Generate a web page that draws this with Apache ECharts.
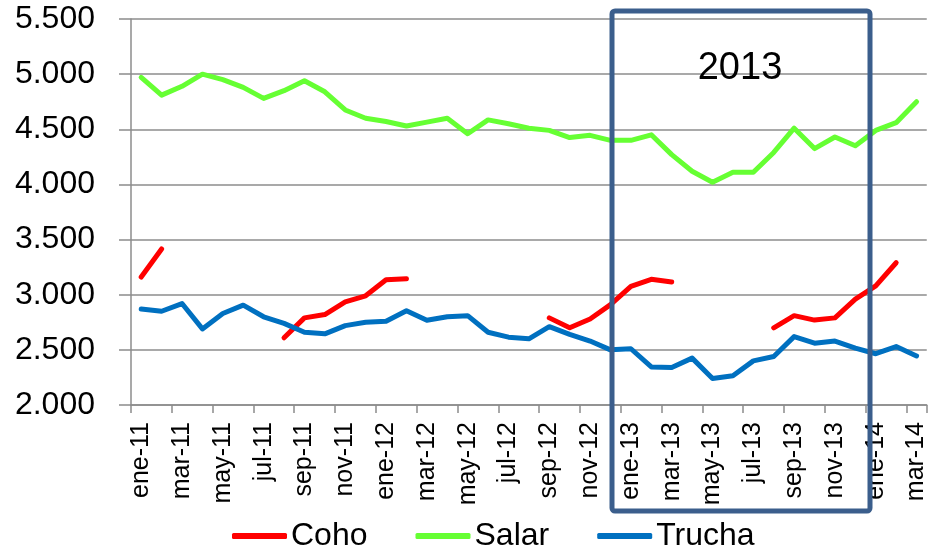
<!DOCTYPE html>
<html>
<head>
<meta charset="utf-8">
<script src="https://cdn.jsdelivr.net/npm/echarts@6/dist/echarts.min.js"></script>
<style>
  html, body { margin: 0; padding: 0; background: #fff; }
  #chart { width: 929px; height: 549px; }
</style>
</head>
<body>
<div id="chart"></div>
<script>
// ===== datos (precio mensual) =====
const meses = [
  'ene-11','feb-11','mar-11','abr-11','may-11','jun-11','jul-11','ago-11','sep-11','oct-11','nov-11','dic-11',
  'ene-12','feb-12','mar-12','abr-12','may-12','jun-12','jul-12','ago-12','sep-12','oct-12','nov-12','dic-12',
  'ene-13','feb-13','mar-13','abr-13','may-13','jun-13','jul-13','ago-13','sep-13','oct-13','nov-13','dic-13',
  'ene-14','feb-14','mar-14'
];
const coho = [
  3160, 3415, null, null, null, null, null, 2610, 2790, 2820, 2935, 2990,
  3135, 3145, null, null, null, null, null, null, 2790, 2700, 2780, 2910,
  3075, 3140, 3115, null, null, null, null, 2700, 2810, 2770, 2790, 2960,
  3080, 3290, null
];
const salar = [
  4970, 4810, 4890, 5000, 4950, 4880, 4780, 4850, 4940, 4840, 4675, 4600,
  4570, 4530, 4565, 4600, 4460, 4585, 4550, 4510, 4490, 4425, 4445, 4400,
  4400, 4450, 4270, 4120, 4020, 4110, 4110, 4290, 4510, 4325, 4430, 4350,
  4490, 4560, 4750
];
const trucha = [
  2870, 2850, 2920, 2690, 2830, 2905, 2800, 2740, 2660, 2645, 2720, 2750,
  2760, 2855, 2768, 2800, 2810, 2660, 2615, 2600, 2710, 2640, 2580, 2500,
  2510, 2345, 2340, 2425, 2240, 2265, 2400, 2440, 2620, 2560, 2580, 2515,
  2465, 2530, 2445
];
const yTicks = { min: 2000, max: 5500, step: 500 };

const FONT = '"Liberation Sans", Arial, sans-serif';
const GRIS = '#8c8c8c';

const fmtMiles = v => String(v).replace(/\B(?=(\d{3})+(?!\d))/g, '.');

const serie = (name, data, color) => ({
    name, type: 'line', data,
    symbol: 'none', connectNulls: false,
    lineStyle: { width: 5, color, cap: 'round', join: 'round' },
    itemStyle: { color },
    emphasis: { disabled: true }
});

const chart = echarts.init(document.getElementById('chart'));
chart.setOption({
    animation: false,
    backgroundColor: '#fff',
    grid: { left: 131, top: 19, width: 800, height: 386, containLabel: false },
    legend: {
        left: 227, top: 515,
        icon: 'roundRect', itemWidth: 55, itemHeight: 6, itemGap: 48,
        textStyle: { fontFamily: FONT, fontSize: 32, color: '#000', padding: [0, 0, 0, -1] },
        data: ['Coho', 'Salar', 'Trucha']
    },
    xAxis: {
        type: 'category', data: meses, boundaryGap: true,
        axisLine: { lineStyle: { color: GRIS, width: 1.5 } },
        axisTick: { show: true, interval: 1, length: 8, lineStyle: { color: GRIS, width: 1.5 } },
        axisLabel: { interval: 1, rotate: 90, margin: 17, fontFamily: FONT, fontSize: 25, color: '#000' },
        splitLine: { show: false }
    },
    yAxis: {
        type: 'value', min: yTicks.min, max: yTicks.max, interval: yTicks.step,
        axisLine: { show: true, lineStyle: { color: GRIS, width: 1.5 } },
        axisTick: { show: true, length: 12, lineStyle: { color: GRIS, width: 1.5 } },
        axisLabel: { margin: 36, fontFamily: FONT, fontSize: 32, color: '#000', formatter: fmtMiles },
        splitLine: { lineStyle: { color: GRIS, width: 1.5 } }
    },
    series: [
        serie('Coho', coho, '#ff0000'),
        serie('Salar', salar, '#66ff33'),
        serie('Trucha', trucha, '#0070c0')
    ],
    graphic: [
        {   // recuadro del año 2013
            type: 'rect', z: 100,
            shape: { x: 612, y: 11, width: 258, height: 500, r: 3 },
            style: { fill: 'none', stroke: '#3b5e8c', lineWidth: 5 }
        },
        {
            type: 'text', z: 100, x: 740, y: 69,
            style: { text: '2013', fontFamily: FONT, fontSize: 38, fill: '#000', align: 'center', verticalAlign: 'middle' }
        }
    ]
});
</script>
</body>
</html>
